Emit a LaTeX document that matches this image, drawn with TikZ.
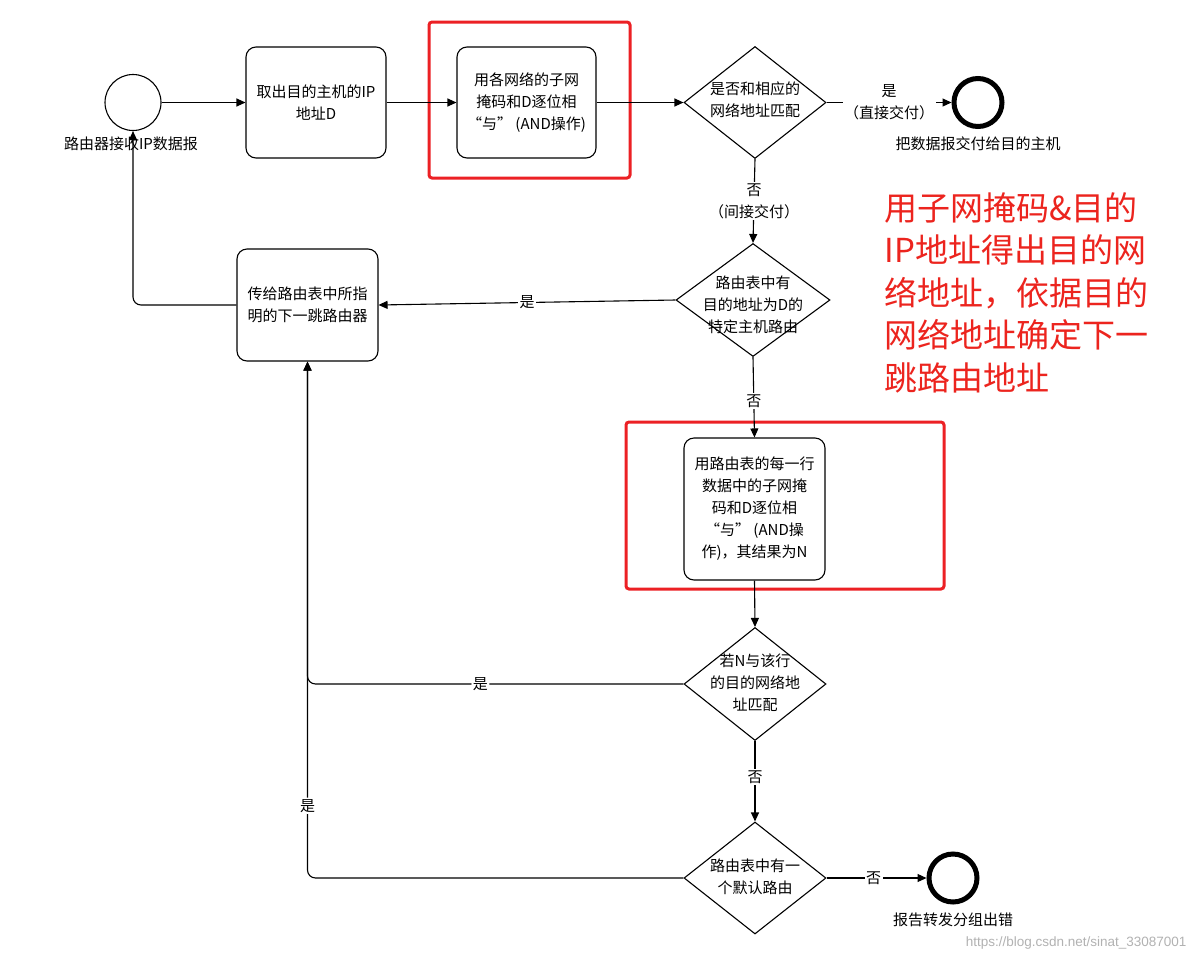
\documentclass[tikz,border=0pt]{standalone}
\usepackage{fontspec}
\newfontfamily\cjk{Noto Sans CJK SC}
\newfontfamily\wm{Liberation Sans}
\usetikzlibrary{shapes.geometric,arrows.meta}
\definecolor{redc}{RGB}{236,32,36}
\definecolor{redt}{RGB}{236,36,30}
\begin{document}
\begin{tikzpicture}[x=1pt,y=-1pt,line width=1.1pt,
  box/.style={draw,rounded corners=10pt,minimum width=140pt,minimum height=111pt,align=center,font=\cjk\fontsize{15}{22}\selectfont,inner sep=2pt},
  dia/.style={draw,diamond,minimum width=142pt,minimum height=112pt,inner sep=0pt},
  txt/.style={align=center,font=\cjk\fontsize{15}{22}\selectfont,inner sep=1pt},
  lbl/.style={fill=white,align=center,font=\cjk\fontsize{15}{22}\selectfont,inner sep=1.5pt},
  arr/.style={-{Triangle[length=9pt,width=8pt]}},
  redbox/.style={draw=redc,line width=3pt,rounded corners=3pt},
  endc/.style={draw,circle,line width=5pt,minimum size=48pt,inner sep=0pt}]
\useasboundingbox[fill=white] (0,0) rectangle (1195,962);

% red frames
\draw[redbox] (429,22) rectangle (630,178);
\draw[redbox] (626,422) rectangle (944,589);

% nodes
\node[draw,circle,minimum size=56pt,inner sep=0pt] (start) at (133,102.5) {};
\node[txt] (startlbl) at (131,144) {路由器接收IP数据报};
\node[box] (b1) at (316,102.5) {取出目的主机的IP\\地址D};
\node[box,minimum width=139pt] (b2) at (526.5,102.5) {用各网络的子网\\掩码和D逐位相\\“与” (AND操作)};
\node[dia] (d1) at (755,102.5) {};
\node[txt] (d1t) at (755,100) {是否和相应的\\网络地址匹配};
\node[endc] (e1) at (978,102.5) {};
\node[txt] (e1l) at (978,144) {把数据报交付给目的主机};

\node[dia,minimum width=154pt,minimum height=113pt] (d2) at (753,300) {};
\node[txt] (d2t) at (753,305) {路由表中有\\目的地址为D的\\特定主机路由};
\node[box,minimum width=141pt,minimum height=112pt] (b3) at (307.5,305) {传给路由表中所指\\明的下一跳路由器};

\node[box,minimum width=141pt,minimum height=142pt] (b4) at (754.5,509) {用路由表的每一行\\数据中的子网掩\\码和D逐位相\\“与” (AND操\\作)，其结果为N};

\node[dia,minimum height=113pt] (d3) at (755,684) {};
\node[txt] (d3t) at (755,683) {若N与该行\\的目的网络地\\址匹配};

\node[dia] (d4) at (755,878) {};
\node[txt] (d4t) at (755,877) {路由表中有一\\个默认路由};
\node[endc] (e2) at (953,878) {};
\node[txt] (e2l) at (953,920) {报告转发分组出错};

% red note
\node[anchor=north west,align=left,text=redt,font=\cjk\fontsize{33}{42.5}\selectfont,inner sep=0pt] (note) at (884,192) {用子网掩码\&目的\\IP地址得出目的网\\络地址，依据目的\\网络地址确定下一\\跳路由地址};

% watermark
\node[anchor=east,text=black!30,font=\wm\fontsize{13.5}{13.5}\selectfont,inner sep=0pt] (wmk) at (1187,943) {https://blog.csdn.net/sinat\_33087001};

% connectors
\draw[arr] (start.east) -- (b1.west);
\draw[arr] (b1.east) -- (b2.west);
\draw[arr] (b2.east) -- (d1.west);
\draw[arr] (d1.east) -- node[lbl]{是\\（直接交付）} (e1.west);
\draw[arr] (d1.south) -- node[lbl]{否\\（间接交付）} (d2.north);
\draw[arr] (d2.west) -- node[lbl]{是} (b3.east);
\draw[arr] (d2.south) -- node[lbl,pos=0.55]{否} (b4.north);
\draw[arr] (b4.south) -- (d3.north);
\draw[arr] (d3.south) -- node[lbl,pos=0.45]{否} (d4.north);
\draw[arr] (d4.east) -- node[lbl,pos=0.47]{否} (e2.west);
\draw[arr,rounded corners=8pt] (d3.west) -| node[lbl,pos=0.27]{是} (b3.south);
\draw[arr,rounded corners=8pt] (d4.west) -| node[lbl,pos=0.57]{是} (b3.south);
\draw[arr,rounded corners=8pt] (b3.west) -| (start.south);
\end{tikzpicture}
\end{document}
